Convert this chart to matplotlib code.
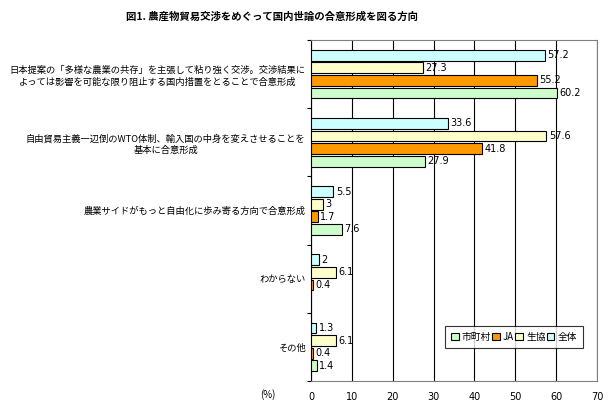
import numpy as np
import matplotlib
matplotlib.use("Agg")
import matplotlib.pyplot as plt

plt.rcParams['font.family'] = ['Noto Sans CJK JP', 'DejaVu Sans']

categories = [
    "日本提案の「多様な農業の共存」を主張して粘り強く交渉。交渉結果に\nよっては影響を可能な限り阻止する国内措置をとることで合意形成",
    "自由貿易主義一辺倒のWTO体制、輸入国の中身を変えさせることを\n基本に合意形成",
    "農業サイドがもっと自由化に歩み寄る方向で合意形成",
    "わからない",
    "その他",
]
series_names = ["全体", "生協", "JA", "市町村"]
zentai = [57.2, 33.6, 5.5, 2, 1.3]
seikyo = [27.3, 57.6, 3, 6.1, 6.1]
ja = [55.2, 41.8, 1.7, 0.4, 0.4]
shichoson = [60.2, 27.9, 7.6, None, 1.4]
colors = ["#CCFFFF", "#FFFFCC", "#FF9900", "#CCFFCC"]
xticks = [0, 10, 20, 30, 40, 50, 60, 70]

fig = plt.figure(figsize=(6.09, 4.09), dpi=100)
ax = fig.add_axes([311 / 609, 1 - 381 / 409, 286 / 609, 341 / 409])

n = len(categories)
bar_h = 0.16
step = 0.185
all_series = [zentai, seikyo, ja, shichoson]
handles = []
for k, (vals, col, name) in enumerate(zip(all_series, colors, series_names)):
    ys = np.arange(n) + (k - 1.5) * step
    for i, v in enumerate(vals):
        if v is None:
            continue
        ax.barh(ys[i], v, height=bar_h, color=col, edgecolor="black", linewidth=0.8, zorder=3)
        ax.text(v + 0.6, ys[i], str(v), va="center", ha="left", fontsize=7, zorder=4,
                family=['DejaVu Sans'])
    handles.append(plt.Rectangle((0, 0), 1, 1, facecolor=col, edgecolor="black", linewidth=0.8, label=name))

ax.set_xlim(0, 70)
ax.set_ylim(n - 0.5, -0.5)
ax.set_xticks(xticks)
ax.set_xticklabels([str(t) for t in xticks], fontsize=7, family=['DejaVu Sans'])
ax.tick_params(axis="x", length=0, pad=8)
ax.grid(axis="x", color="black", linewidth=0.8, zorder=0)

ax.set_yticks(np.arange(n + 1) - 0.5, minor=True)
ax.set_yticks(np.arange(n))
ax.set_yticklabels(categories, fontsize=6.7, ha="right", multialignment="center",
                   linespacing=1.3)
ax.tick_params(axis="y", which="major", length=0, pad=4)
ax.tick_params(axis="y", which="minor", length=3, direction="out", width=0.8)

for s in ["top", "right", "bottom"]:
    ax.spines[s].set_color("#808080")
    ax.spines[s].set_linewidth(0.8)
ax.spines["left"].set_color("black")
ax.spines["left"].set_linewidth(0.8)

leg = ax.legend(handles=handles[::-1], ncol=4, loc="lower left",
                bbox_to_anchor=(0.47, 0.097, 0.48, 0.093), mode="expand",
                fontsize=7, frameon=True, fancybox=False, edgecolor="black",
                handlelength=0.8, handleheight=0.8, handletextpad=0.3,
                columnspacing=0.6, borderpad=0.6, borderaxespad=0)
leg.get_frame().set_linewidth(0.8)

fig.text(272 / 609, 1 - 17 / 409, "図1. 農産物貿易交渉をめぐって国内世論の合意形成を図る方向",
         ha="center", va="center", fontsize=7.5, fontweight="bold")
fig.text(268 / 609, 1 - 395 / 409, "(%)", ha="center", va="center", fontsize=7)

fig.savefig("out.png", dpi=100)
